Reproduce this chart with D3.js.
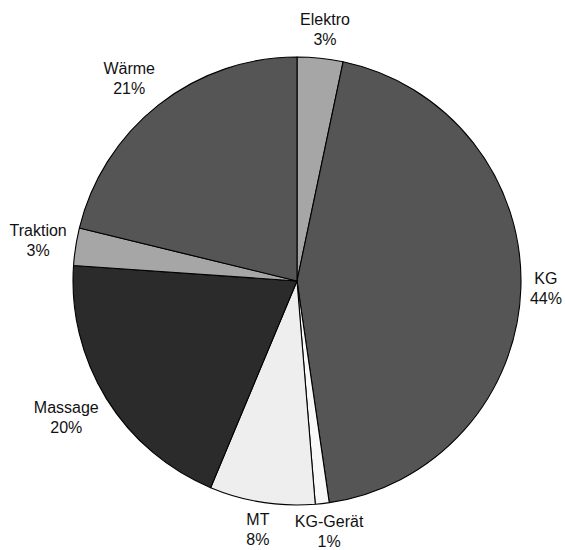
<!DOCTYPE html>
<html>
<head>
<meta charset="utf-8">
<script src="https://cdn.jsdelivr.net/npm/d3@7"></script>
<style>
  html, body { margin: 0; padding: 0; background: #fff; }
  svg { display: block; }
  text { font-family: "Liberation Sans", Arial, sans-serif; font-size: 16px; fill: #111; }
</style>
</head>
<body>
<svg id="chart" width="565" height="550"></svg>
<script>
// Share of treatments by type (percent), clockwise from 12 o'clock
const categories = ["Elektro", "KG", "KG-Gerät", "MT", "Massage", "Traktion", "Wärme"];
const shares = [3.3, 44.4, 1.0, 7.6, 19.8, 2.7, 21.2];
const fills = ["#a6a6a6", "#555555", "#f8f8f8", "#eeeeee", "#2b2b2b", "#a6a6a6", "#555555"];

const width = 565, height = 550;
const cx = 297, cy = 281, radius = 224;
const labelGap = 9;
const lineHeight = 20;

const data = categories.map((c, i) => ({ name: c, value: shares[i], fill: fills[i] }));
const total = d3.sum(shares);
const pct = v => Math.round(v / total * 100) + "%";

const svg = d3.select("#chart");
const g = svg.append("g").attr("transform", `translate(${cx},${cy})`);

const pie = d3.pie().value(d => d.value).sort(null);
const arc = d3.arc().innerRadius(0).outerRadius(radius);
const arcs = pie(data);

g.selectAll("path.slice")
  .data(arcs)
  .join("path")
  .attr("class", "slice")
  .attr("d", arc)
  .attr("fill", d => d.data.fill)
  .attr("stroke", "#000")
  .attr("stroke-width", 1.1)
  .attr("stroke-linejoin", "round");

// Two-line labels placed just outside each slice's outer edge
const clamp = v => Math.max(-1, Math.min(1, v));
const labels = g.selectAll("g.label")
  .data(arcs)
  .join("g")
  .attr("class", "label");

labels.each(function(d) {
  const sel = d3.select(this);
  const t1 = sel.append("text").attr("text-anchor", "middle").text(d.data.name);
  const t2 = sel.append("text").attr("text-anchor", "middle").text(pct(d.data.value));
  const w = Math.max(t1.node().getComputedTextLength(), t2.node().getComputedTextLength());
  const h = 38;
  const a = (d.startAngle + d.endAngle) / 2;
  const sx = Math.sin(a), sy = -Math.cos(a);
  const ax = (radius + labelGap) * sx, ay = (radius + labelGap) * sy;
  const bx = ax + (w / 2) * clamp(sx * 1.5);
  const by = ay + (h / 2) * clamp(sy * 1.5);
  t1.attr("x", bx).attr("y", by - 5);
  t2.attr("x", bx).attr("y", by - 5 + lineHeight);
});
</script>
</body>
</html>
